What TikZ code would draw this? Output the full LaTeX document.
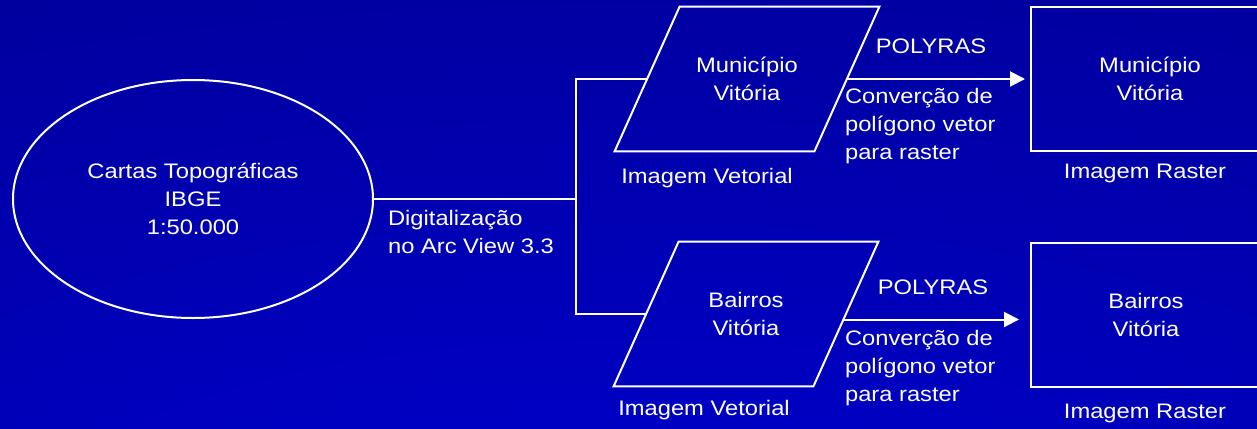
\documentclass[tikz,border=0pt]{standalone}
\usepackage{fontspec}
\setmainfont{Liberation Sans}[FakeStretch=1.13]
\usetikzlibrary{shapes.geometric,arrows.meta}

\definecolor{bgdark}{HTML}{00006A}
\definecolor{bgbright}{HTML}{0000D4}
\pgfdeclareradialshading{slidebg}{\pgfpoint{0bp}{-50bp}}{color(0bp)=(bgbright); color(110bp)=(bgdark)}

\tikzset{
  flowline/.style={draw=white, line width=1pt},
  vetorbox/.style={rectangle, inner sep=0pt, align=center, minimum width=67pt, minimum height=72pt},
  rasterbox/.style={rectangle, draw=white, line width=1pt, align=center, minimum height=72pt},
  legenda/.style={align=left}
}

\begin{document}
\begin{tikzpicture}[x=0.5pt, y=-0.5pt,
    every node/.style={text=white, font=\fontsize{10.5}{14}\selectfont}]
    \useasboundingbox (0,0) rectangle (1257,428);
    % Slide background
    \begin{scope}
      \clip (0,0) rectangle (1257,428);
      \shade[shading=slidebg] (0,0) rectangle (1257,428);
    \end{scope}

    % Source maps
    \node[ellipse, draw=white, line width=1pt, minimum width=180pt, minimum height=119pt,
      align=center] (carta) at (193,199) {Cartas Topográficas\\IBGE\\1:50.000};

    % Vector images (parallelograms around the text boxes)
    \node[vetorbox] (mv) at (747,79) {Município\\Vitória};
    \node[vetorbox] (bv) at (746,314) {Bairros\\Vitória};
    \foreach \n in {mv,bv} {
      \draw[flowline] ([xshift=-32.5pt]\n.south west) -- (\n.south east)
        -- ([xshift=32.5pt]\n.north east) -- (\n.north west) -- cycle;
      \coordinate (\n-in) at ([xshift=-16.25pt]\n.west);
      \coordinate (\n-out) at ([xshift=16.25pt]\n.east);
    }
    \node (mvlbl) at (707,178) {Imagem Vetorial};
    \node (bvlbl) at (704,410) {Imagem Vetorial};

    % Raster images
    \node[rasterbox, minimum width=119pt] (mr) at (1150,79) {Município\\Vitória};
    \node[rasterbox, minimum width=115pt] (br) at (1146,315) {Bairros\\Vitória};
    \node (mrlbl) at (1145,173) {Imagem Raster};
    \node (brlbl) at (1145,413) {Imagem Raster};

    % Digitizing connectors
    \coordinate (split) at (576,199);
    \draw[flowline] (carta.east) -- (split);
    \draw[flowline] (split) |- (mv-in);
    \draw[flowline] (split) |- (bv-in);
    \node[legenda, anchor=west] (digit) at (381,232) {Digitalização\\no Arc View 3.3};

    % Conversion arrows
    \draw[flowline, -{Triangle[length=7.5pt, width=7.5pt]}, shorten >=2.5pt] (mv-out) -- (mr.west);
    \draw[flowline, -{Triangle[length=7.5pt, width=7.5pt]}, shorten >=5.5pt]
      ([shift={(-1.2pt,-2.75pt)}]bv-out) -- ([yshift=-2.75pt]bv-out -| br.west);
    \node (polyA) at (931,46) {POLYRAS};
    \node (polyB) at (933,287) {POLYRAS};
    \node[legenda, anchor=west] (convA) at (838,126) {Converção de\\polígono vetor\\para raster};
    \node[legenda, anchor=west] (convB) at (838,368) {Converção de\\polígono vetor\\para raster};
\end{tikzpicture}
\end{document}
